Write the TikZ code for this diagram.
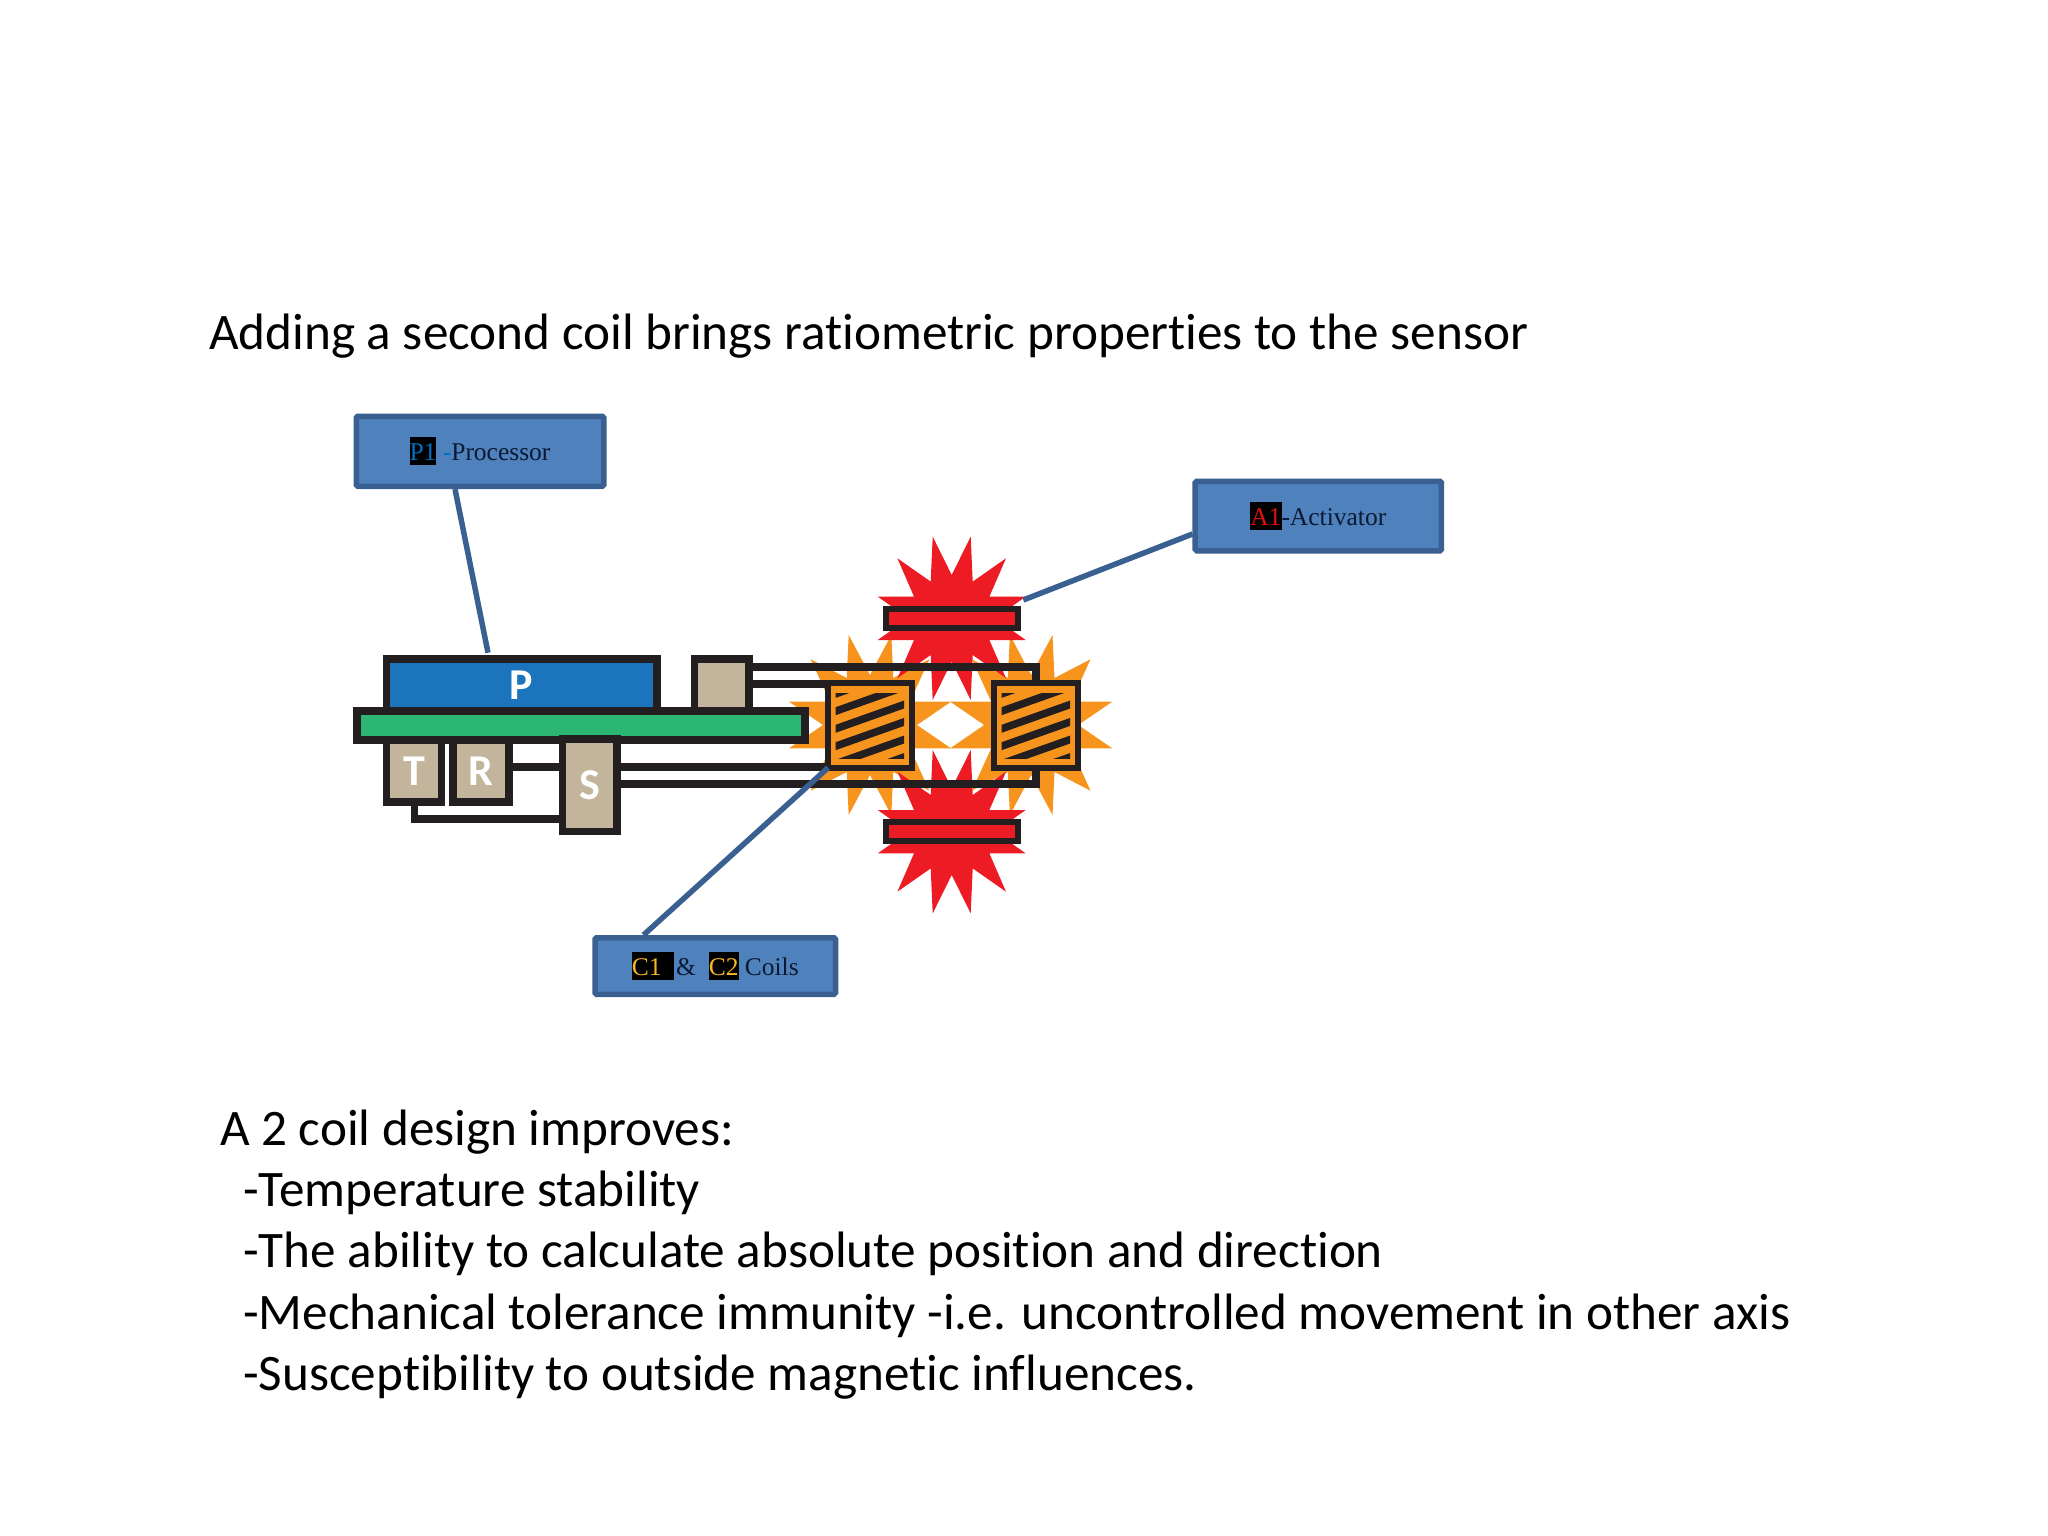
\documentclass[tikz,border=0pt]{standalone}
\usepackage{fontspec}
\setmainfont[Ligatures=NoCommon]{Carlito}
\newfontfamily\timesf{Liberation Serif}
\definecolor{ink}{HTML}{231F20}
\definecolor{boxfill}{HTML}{4F81BD}
\definecolor{boxline}{HTML}{3A6091}
\definecolor{pblue}{HTML}{1C75BC}
\definecolor{pgreen}{HTML}{2BB673}
\definecolor{beige}{HTML}{C2B59B}
\definecolor{porange}{HTML}{F7941E}
\definecolor{pred}{HTML}{ED1C24}
\definecolor{labink}{HTML}{0B1A33}
\definecolor{hlblue}{HTML}{0070C0}
\definecolor{hlred}{HTML}{E01010}
\definecolor{hlyellow}{HTML}{F5B81E}
\setlength{\fboxsep}{0pt}
\newcommand{\hl}[2]{\colorbox{black}{\rule[-0.2em]{0pt}{1.117em}\textcolor{#1}{#2}}}
\newcommand{\orangeburst}[2]{\fill[porange,shift={(#1,#2)}]
 (0,-50)--(21.3,-90)--(23.3,-47)--(59.3,-65.7)--(40,-23.3)--(81,-23.3)--(47,0)--(81,23.3)--(40,23.3)--(59.3,65.7)--(23.3,47)--(21.3,90)--(0,50)--(-21.3,90)--(-23.3,47)--(-59.3,65.7)--(-40,23.3)--(-81,23.3)--(-47,0)--(-81,-23.3)--(-40,-23.3)--(-59.3,-65.7)--(-23.3,-47)--(-21.3,-90)--cycle;}
\newcommand{\redburst}[2]{\fill[pred,shift={(#1,#2)}]
 (0,-43.3)--(19,-81.7)--(21,-36.7)--(54.3,-60)--(37.7,-21.7)--(74,-21.7)--(43.3,0)--(74,21.7)--(37.7,21.7)--(54.3,60)--(21,36.7)--(19,81.7)--(0,43.3)--(-19,81.7)--(-21,36.7)--(-54.3,60)--(-37.7,21.7)--(-74,21.7)--(-43.3,0)--(-74,-21.7)--(-37.7,-21.7)--(-54.3,-60)--(-21,-36.7)--(-19,-81.7)--cycle;}
\newcommand{\hatchcoil}[3]{\node[part,fill=porange,line width=6pt,minimum width=84pt,minimum height=84.5pt] (#1) at (#2,#3) {};
 \begin{scope}[shift={(#2,#3)}]
  \clip (-34.3,-32.3) rectangle (34,33.3);
  \foreach \yy in {-31.6,-14.3,3.3,20.7,38.3,55.8}{
   \draw[ink,line width=7.5pt] (-44.3,\yy+3.5) -- (44,\yy-27.8);}
 \end{scope}}
\tikzset{
 x=1pt,y=-1pt,
 callout/.style={draw=boxline,fill=boxfill,line width=5.5pt,rounded corners=1.5pt,inner sep=0pt,outer sep=0pt,font=\timesf\fontsize{25.5}{30}\selectfont,text=labink},
 leader/.style={draw=boxline,line width=5.5pt},
 part/.style={draw=ink,line width=7.5pt,inner sep=0pt,outer sep=0pt,rectangle},
 letter/.style={text=white,font=\bfseries\fontsize{44}{44}\selectfont},
 wire/.style={draw=ink,line width=7.5pt},
 caption/.style={anchor=base west,inner sep=0pt,font=\fontsize{51.2}{60}\selectfont,text=black},
}
\begin{document}
\begin{tikzpicture}
\useasboundingbox (0,0) rectangle (2048,1536);
\fill[white] (0,0) rectangle (2048,1536);

\node[caption] (head) at (209,349) {Adding a second coil brings ratiometric properties to the sensor};
\node[caption] (l0) at (220,1145) {A 2 coil design improves:};
\node[caption] (l1) at (243,1206.4) {-Temperature stability};
\node[caption] (l2) at (243,1267.8) {-The ability to calculate absolute position and direction};
\node[caption] (l3) at (243,1329.2) {-Mechanical tolerance immunity -i.e. uncontrolled movement in other axis};
\node[caption] (l4) at (243,1390.6) {-Susceptibility to outside magnetic influences.};

\orangeburst{870}{725}
\orangeburst{1031.2}{725}
\redburst{951.7}{618.3}
\redburst{951.7}{831.7}

\node[part,fill=pblue,minimum width=270.5pt,minimum height=52pt,letter] (p) at (521.7,685) {P};
\node[part,fill=beige,minimum width=54.5pt,minimum height=52pt] (topq) at (721.7,685) {};
\node[part,fill=beige,minimum width=55pt,minimum height=61.5pt,letter] (t) at (414,771) {T};
\node[part,fill=beige,minimum width=56pt,minimum height=61.5pt,letter] (r) at (481,771) {R};
\node[part,fill=pgreen,minimum width=448pt,minimum height=29pt] (g) at (580.75,725.25) {};

\coordinate (sw) at (589.7,785.25);
\draw[wire] (r.east |- 0,767) -- (sw |- 0,767);
\draw[wire] (t.south -| 414.3,0) -- (414.3,819.2) -- (sw |- 0,819.2);
\node[part,fill=beige,minimum width=54.5pt,minimum height=92.5pt,letter] (s) at (sw) {S};

\node[part,line width=6pt,fill=pred,minimum width=131.5pt,minimum height=19pt] (bara) at (952,618.3) {};
\node[part,line width=6pt,fill=pred,minimum width=131.5pt,minimum height=19pt] (barb) at (952,831.7) {};

\coordinate (c2x) at (1036,725);
\draw[wire] (topq.east |- 0,667) -- (c2x |- 0,667) -- (c2x);
\draw[wire] (topq.east |- 0,684) -- (870,684);
\draw[wire] (s.east |- 0,767) -- (870,767);
\draw[wire] (s.east |- 0,784) -- (c2x |- 0,784) -- (c2x);
\hatchcoil{coila}{870}{725.5}
\hatchcoil{coilb}{1036}{725.5}

\node[callout,minimum width=247.5pt,minimum height=70pt] (pl) at (480,451.25)
 {\hl{hlblue}{P1}\hspace{0.25em}\textcolor{hlblue}{-}Processor};
\node[callout,minimum width=246.2pt,minimum height=69.5pt] (al) at (1318.3,516)
 {\hl{hlred}{A1}-Activator};
\node[callout,minimum width=240.5pt,minimum height=56.5pt] (cl) at (715.3,966)
 {\hl{hlyellow}{C1\hspace{0.5em}}\hspace{0.07em}\&\hspace{0.25em} \hl{hlyellow}{C2} Coils};

\coordinate (pa) at (455,489);
\coordinate (pb) at (488,652.7);
\coordinate (aa) at (1192.5,534);
\coordinate (ab) at (1023.3,600);
\coordinate (ca) at (643.5,935);
\draw[leader] (pa) -- (pb);
\draw[leader] (aa) -- (ab);
\draw[leader] (ca) -- (coila.south west);
\end{tikzpicture}
\end{document}
